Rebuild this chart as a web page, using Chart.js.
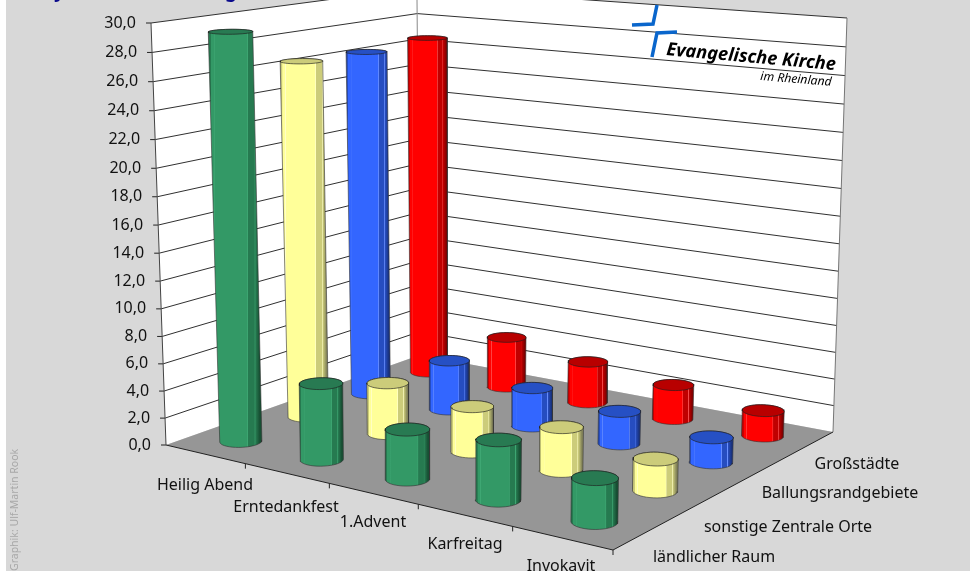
<!DOCTYPE html>
<html lang="de"><head><meta charset="utf-8">
<style>html,body{margin:0;padding:0;background:#fff}canvas{display:block}</style>
<script src="https://cdn.jsdelivr.net/npm/chart.js@4/dist/chart.umd.js"></script>
</head><body><canvas id="c" width="970" height="571" style="width:970px;height:571px"></canvas>
<script>
// ---------- data ----------
const categories = ['Heilig Abend','Erntedankfest','1.Advent','Karfreitag','Invokavit'];
const seriesNames = ['ländlicher Raum','sonstige Zentrale Orte','Ballungsrandgebiete','Großstädte'];
const laendlicherRaum = [29.3, 5.5, 3.5, 4.1, 2.9];
const sonstigeZentraleOrte = [26.5, 3.8, 3.3, 3.1, 2.2];
const ballungsrandgebiete = [26.4, 3.8, 2.9, 2.4, 1.8];
const grossstaedte = [26.7, 4.0, 3.2, 2.6, 1.9];
const valueMin = 0, valueMax = 30, valueStep = 2;

// ---------- 3D view ----------
const FONT = '"Noto Sans"';
const C_A=[166,445],C_B=[613,550],C_C=[833,432],C_D=[420,355];
const T_A=[151,23],T_B=[619,62],T_C=[847,18],T_D=[417,-12];
const PERSP=1.05, RU=0.2, RV=0.2, SEG=40;
function quad(p00,p10,p11,p01){
  const dx1=p10[0]-p11[0],dx2=p01[0]-p11[0],sx=p00[0]-p10[0]+p11[0]-p01[0];
  const dy1=p10[1]-p11[1],dy2=p01[1]-p11[1],sy=p00[1]-p10[1]+p11[1]-p01[1];
  const den=dx1*dy2-dx2*dy1,g=(sx*dy2-dx2*sy)/den,h=(dx1*sy-sx*dy1)/den;
  const a=p10[0]-p00[0]+g*p10[0],b=p01[0]-p00[0]+h*p01[0],c=p00[0];
  const d=p10[1]-p00[1]+g*p10[1],e=p01[1]-p00[1]+h*p01[1],f=p00[1];
  return (u,v)=>{const w=g*u+h*v+1;return [(a*u+b*v+c)/w,(d*u+e*v+f)/w];};
}
const floorAt=quad(C_A,C_B,C_C,C_D), topAt=quad(T_A,T_B,T_C,T_D);
function project(u,v,val){
  const s=val/valueMax,t=s/(s+(1-s)*PERSP),b=floorAt(u,v),a=topAt(u,v);
  return {x:b[0]+(a[0]-b[0])*t,y:b[1]+(a[1]-b[1])*t};
}
function hull(pts){
  const p=pts.slice().sort((a,b)=>a.x-b.x||a.y-b.y);
  const cr=(o,a,b)=>(a.x-o.x)*(b.y-o.y)-(a.y-o.y)*(b.x-o.x);
  const lo=[],up=[];
  for(const q of p){while(lo.length>1&&cr(lo[lo.length-2],lo[lo.length-1],q)<=0)lo.pop();lo.push(q);}
  for(const q of p.slice().reverse()){while(up.length>1&&cr(up[up.length-2],up[up.length-1],q)<=0)up.pop();up.push(q);}
  lo.pop();up.pop();return lo.concat(up);
}
const canvas=document.getElementById('c'),g2=canvas.getContext('2d');
const palette=[
 {main:'#339966',dark:'#267a50',edge:'#174f33',light:'#3fa874',top:'#287a52'},
 {main:'#ffff99',dark:'#cccc7a',edge:'#85855a',light:'#ffffc8',top:'#cccc7a'},
 {main:'#3366ff',dark:'#264dc0',edge:'#1a3380',light:'#6a90ff',top:'#2650c4'},
 {main:'#ff0000',dark:'#c00000',edge:'#800000',light:'#ff5a5a',top:'#b80000'}
];
function bodyFill(xa,xb,c){
  const gr=g2.createLinearGradient(xa,0,xb,0);
  [[0,c.edge],[.015,c.dark],[.045,c.dark],[.05,c.main],[.1,c.main],[.11,c.light],[.125,c.main],[.72,c.main],[.735,c.light],[.75,c.dark],[.86,c.dark],[.87,c.light],[.885,c.dark],[.96,c.edge],[1,c.edge]]
    .forEach(s=>gr.addColorStop(s[0],s[1]));
  return gr;
}
function poly(points,opts){
  return Object.assign({type:'line',data:points.map(p=>({x:p.x,y:p.y})),xAxisID:'px',yAxisID:'py',
    pointRadius:0,tension:0,clip:false,borderWidth:1,borderColor:'#333',fill:false},opts);
}
const layers=[];
// walls and floor
layers.push(poly([project(0,0,0),project(0,0,valueMax),project(0,1,valueMax),project(0,1,0)],{fill:'shape',backgroundColor:'#fff',borderWidth:0}));
layers.push(poly([project(0,1,0),project(0,1,valueMax),project(1,1,valueMax),project(1,1,0)],{fill:'shape',backgroundColor:'#fff',borderWidth:0}));
for(let v=valueMin+valueStep;v<=valueMax;v+=valueStep)
  layers.push(poly([project(0,0,v),project(0,1,v),project(1,1,v)],{borderColor:'#303030'}));
layers.push(poly([project(0,1,0),{x:417,y:0}],{borderColor:'#8a8a8a'}));
layers.push(poly([project(0,0,0),project(0,0,valueMax)],{borderColor:'#444'}));
layers.push(poly([project(1,1,0),project(1,1,valueMax)],{borderColor:'#777'}));
layers.push(poly([project(0,0,0),project(1,0,0),project(1,1,0),project(0,1,0),project(0,0,0)],{fill:'shape',backgroundColor:'#969696',borderWidth:0}));
layers.push(poly([project(0,0,0),project(1,0,0),project(1,1,0)],{borderColor:'#222'}));
// cylinders: far ones first
const seriesValues=[laendlicherRaum,sonstigeZentraleOrte,ballungsrandgebiete,grossstaedte];
const cells=[];
seriesValues.forEach((vals,j)=>vals.forEach((val,i)=>cells.push({i,j,val})));
cells.sort((a,b)=>(a.i-a.j)-(b.i-b.j));
const nu=categories.length,nv=seriesNames.length;
cells.forEach(({i,j,val})=>{
  const uc=(i+.5)/nu,vc=(j+.5)/nv,ring=h=>{const r=[];for(let k=0;k<SEG;k++){const th=k/SEG*2*Math.PI;
    r.push(project(uc+RU/nu*Math.cos(th),vc+RV/nv*Math.sin(th),h));}return r;};
  const top=ring(val),shell=hull(top.concat(ring(0)));
  const xs=shell.map(p=>p.x),c=palette[j];
  const closed=a=>a.concat([a[0]]);
  layers.push(poly(closed(shell),{label:seriesNames[j]+' '+categories[i],fill:'shape',
    backgroundColor:bodyFill(Math.min(...xs),Math.max(...xs),c),borderColor:'rgba(50,50,50,.75)',borderWidth:.8}));
  layers.push(poly(closed(top),{fill:'shape',backgroundColor:c.top,borderColor:'rgba(30,30,30,.8)',borderWidth:.8}));
});
layers.forEach((d,k)=>{d.order=layers.length-k;});

// ---------- axes living on the edges of the 3D box ----------
const CAT_LABEL_XY=[[205,485],[286,507],[373,522],[465,544],[561,566]];
const SER_LABEL_XY=[[714,557],[788,527],[840,493],[857,464]];
function edgeLabels(items,xy){
  return items.map((it,i)=>{it.textOffset=0;it.options.translation=xy(i,it);it.options.textAlign='center';it.options.textBaseline='middle';it.options.rotation=0;return it;});
}
class ValueAxis extends Chart.LinearScale{
  getPixelForValue(v){return project(0,0,v).y;}
  _computeLabelArea(){return undefined;}
  _computeLabelItems(ca){
    return super._computeLabelItems(ca).map((it,i)=>{const p=project(0,0,this.ticks[i].value);
      it.textOffset=0;it.options.translation=[p.x-15,p.y];it.options.textAlign='right';it.options.textBaseline='middle';return it;});
  }
  _computeGridLineItems(ca){
    return super._computeGridLineItems(ca).map((it,i)=>{const p=project(0,0,this.ticks[i].value);
      it.tx1=p.x-5;it.tx2=p.x;it.ty1=it.ty2=p.y;return it;});
  }
}
ValueAxis.id='valueEdge';ValueAxis.defaults=Chart.LinearScale.defaults;
class CategoryEdge extends Chart.CategoryScale{
  _computeLabelArea(){return undefined;}
  _computeLabelItems(ca){return edgeLabels(super._computeLabelItems(ca),i=>CAT_LABEL_XY[i]);}
  _computeGridLineItems(){
    const out=[];for(let k=1;k<=nu;k++){const p=project(k/nu,0,0);
      out.push({tx1:p.x,ty1:p.y,tx2:p.x,ty2:p.y+5,tickWidth:1,tickColor:'#222',width:0,color:'#222'});}
    return out;
  }
}
CategoryEdge.id='categoryEdge';CategoryEdge.defaults=Chart.CategoryScale.defaults;
class SeriesEdge extends Chart.CategoryScale{
  _computeLabelArea(){return undefined;}
  _computeLabelItems(ca){return edgeLabels(super._computeLabelItems(ca),i=>SER_LABEL_XY[i]);}
}
SeriesEdge.id='seriesEdge';SeriesEdge.defaults=Chart.CategoryScale.defaults;
Chart.register(ValueAxis,CategoryEdge,SeriesEdge);

const collapse=s=>{if(s.isHorizontal())s.height=0;else s.width=0;s.paddingLeft=s.paddingRight=s.paddingTop=s.paddingBottom=0;};
const labelFont={family:FONT,size:16};
const decor={id:'decor',
  beforeDraw(ch){const c=ch.ctx;c.save();c.fillStyle='#fff';c.fillRect(0,0,970,571);c.fillStyle='#d8d8d8';c.fillRect(6,0,964,571);
    c.fillStyle='#0a0a8c';c.font='bold 19px '+FONT;c.textBaseline='alphabetic';c.fillText('y',54,-3);c.fillText('g',225,-3);
    c.translate(18,571);c.rotate(-Math.PI/2);c.fillStyle='#a8a8a8';c.font='10.5px '+FONT;c.fillText('Graphik: Ulf-Martin Rook',0,0);c.restore();},
  afterDatasetsDraw(ch){const c=ch.ctx;c.save();c.strokeStyle='#0a66cc';c.lineWidth=3.5;c.lineJoin='miter';
    c.beginPath();c.moveTo(632,25);c.lineTo(653,24);c.lineTo(657,5);c.stroke();
    c.beginPath();c.moveTo(677,32);c.lineTo(657,33);c.lineTo(652,57);c.stroke();
    c.fillStyle='#000';c.save();c.translate(666,55);c.rotate(5.1*Math.PI/180);c.font='italic bold 18.2px '+FONT;c.fillText('Evangelische Kirche',0,0);c.restore();
    c.save();c.translate(760,80);c.rotate(4.7*Math.PI/180);c.font='italic 12.2px '+FONT;c.fillText('im Rheinland',0,0);c.restore();
    c.restore();}
};
new Chart(canvas,{
  type:'line',
  data:{datasets:layers},
  plugins:[decor],
  options:{responsive:false,animation:false,devicePixelRatio:1,
    layout:{padding:0},
    plugins:{legend:{display:false},tooltip:{enabled:false},title:{display:false}},
    elements:{point:{radius:0}},
    scales:{
      px:{type:'linear',axis:'x',display:false,min:0,max:970},
      py:{type:'linear',axis:'y',display:false,min:0,max:571,reverse:true},
      value:{type:'valueEdge',axis:'y',position:'left',min:valueMin,max:valueMax,afterFit:collapse,
        border:{display:false},grid:{display:true,drawOnChartArea:false,drawTicks:true,tickLength:5,tickColor:'#222'},
        ticks:{stepSize:valueStep,autoSkip:false,color:'#111',font:labelFont,callback:v=>v.toFixed(1).replace('.',',')}},
      cat:{type:'categoryEdge',axis:'x',position:'bottom',labels:categories,afterFit:collapse,offset:true,
        border:{display:false},grid:{display:true,drawOnChartArea:false,drawTicks:true},
        ticks:{autoSkip:false,maxRotation:0,color:'#111',font:labelFont}},
      ser:{type:'seriesEdge',axis:'x',position:'bottom',labels:seriesNames,afterFit:collapse,offset:true,
        border:{display:false},grid:{display:false},
        ticks:{autoSkip:false,maxRotation:0,color:'#111',font:labelFont}}
    }
  }
});
</script></body></html>
